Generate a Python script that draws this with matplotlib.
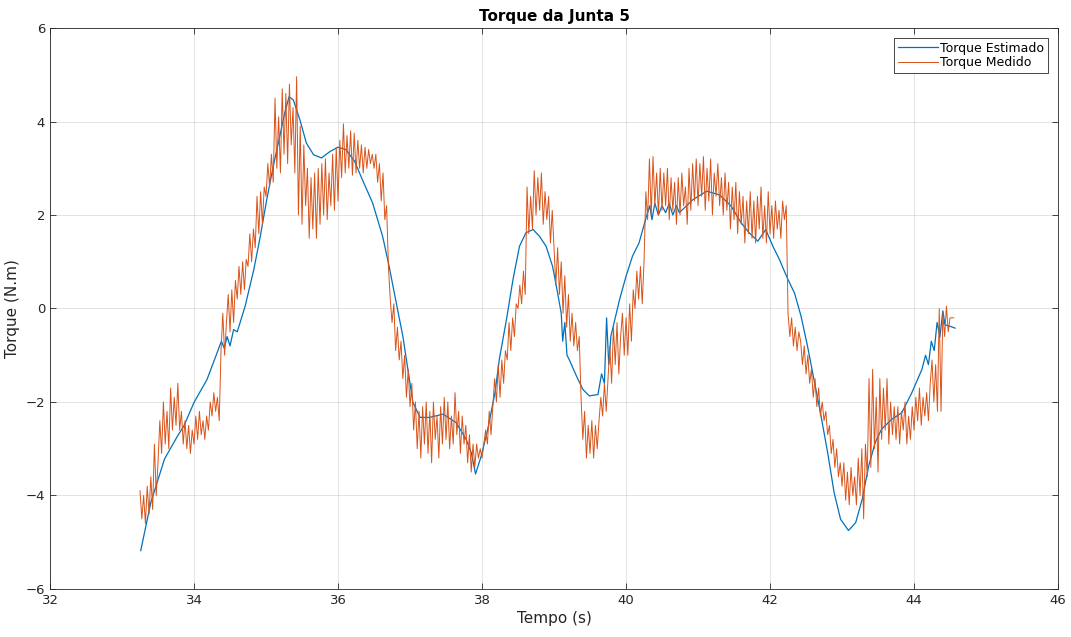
import numpy as np
import matplotlib.pyplot as plt

# Estimated torque, sampled at the turning points of the curve
t_est = [33.26, 33.40, 33.59, 33.77, 33.86, 34.00, 34.18, 34.32, 34.38, 34.42, 34.46,
         34.50, 34.55, 34.60, 34.71, 34.83, 34.92, 35.01, 35.10, 35.20, 35.26, 35.32,
         35.38, 35.47, 35.56, 35.66, 35.77, 35.89, 36.00, 36.11, 36.23, 36.34, 36.48,
         36.62, 36.71, 36.80, 36.90, 36.97, 37.04, 37.14, 37.27, 37.46, 37.64, 37.78,
         37.85, 37.91, 37.99, 38.08, 38.18, 38.24, 38.34, 38.43, 38.52, 38.61, 38.71,
         38.80, 38.89, 38.98, 39.05, 39.10, 39.12, 39.15, 39.18, 39.21, 39.31, 39.40,
         39.49, 39.61, 39.66, 39.70, 39.73, 39.76, 39.79, 39.91, 40.00, 40.09, 40.18,
         40.28, 40.33, 40.36, 40.40, 40.45, 40.50, 40.55, 40.60, 40.65, 40.70, 40.74,
         40.93, 41.12, 41.30, 41.46, 41.60, 41.71, 41.83,
         41.94, 42.04, 42.13, 42.24, 42.34, 42.43, 42.52, 42.61, 42.70, 42.80, 42.89,
         42.98, 43.09, 43.19, 43.28, 43.37, 43.46, 43.55, 43.69, 43.83, 43.97, 44.11,
         44.16, 44.20, 44.24, 44.28, 44.32, 44.36, 44.40, 44.43, 44.50, 44.57]
v_est = [-5.18, -4.15, -3.22, -2.73, -2.51, -2.01, -1.52, -0.95, -0.70, -0.85, -0.60,
         -0.80, -0.45, -0.50, 0.05, 0.83, 1.54, 2.33, 3.04, 3.75, 4.18, 4.53,
         4.46, 4.04, 3.54, 3.29, 3.22, 3.36, 3.45, 3.40, 3.15, 2.75, 2.26,
         1.54, 0.90, 0.19, -0.59, -1.30, -2.01, -2.33, -2.33, -2.26, -2.44, -2.80,
         -3.08, -3.54, -3.15, -2.58, -1.80, -1.09, -0.23, 0.62, 1.33, 1.62, 1.69,
         1.54, 1.33, 0.90, 0.33, -0.10, -0.70, -0.30, -1.00, -1.09, -1.44, -1.73,
         -1.87, -1.84, -1.40, -1.60, -0.20, -1.20, -0.59, 0.19, 0.69, 1.12, 1.40,
         1.95, 2.20, 1.90, 2.25, 2.00, 2.20, 2.05, 2.25, 2.00, 2.20, 2.05,
         2.33, 2.51, 2.43, 2.19, 1.83, 1.62, 1.44,
         1.69, 1.33, 1.05, 0.65, 0.33, -0.16, -0.80, -1.52, -2.23, -3.08, -3.94,
         -4.51, -4.75, -4.58, -4.08, -3.37, -2.87, -2.58, -2.37, -2.23, -1.80, -1.30,
         -1.00, -1.20, -0.70, -0.90, -0.30, -0.60, -0.05, -0.35, -0.38, -0.42]

# Measured torque, one reading every 25 ms from 33.25 s
t0_med = 33.25
dt_med = 0.025
v_med = [
    -3.9, -4.5, -4.0, -4.6, -3.8, -4.4, -3.6, -4.3, -2.9, -4.0,
    -3.3, -2.4, -3.1, -2.0, -2.9, -2.2, -3.0, -1.7, -2.6, -1.9,
    -2.5, -1.6, -2.6, -2.2, -2.9, -2.4, -3.0, -2.5, -3.1, -2.6,
    -2.9, -2.3, -2.8, -2.2, -2.7, -2.4, -2.8, -2.3, -2.6, -2.0,
    -2.3, -1.8, -2.2, -1.9, -2.4, -0.9, -0.1, -1.0, -0.3, 0.3,
    -0.5, 0.4, -0.3, 0.6, 0.2, 0.9, 0.3, 1.0, 0.4, 1.05,
    0.9, 1.6, 1.0, 1.7, 1.3, 2.4, 1.6, 2.5, 1.8, 2.6,
    2.4, 3.1, 2.6, 3.3, 2.7, 4.5, 3.0, 4.1, 2.9, 4.7,
    3.3, 4.6, 3.1, 4.8, 3.5, 4.3, 2.9, 4.96, 2.0, 3.9,
    1.8, 3.5, 2.2, 3.0, 1.5, 2.8, 1.7, 2.9, 1.5, 3.0,
    1.8, 3.1, 2.0, 3.2, 1.9, 2.9, 2.2, 3.3, 2.1, 3.45,
    2.3, 3.6, 2.8, 3.95, 2.9, 3.7, 3.0, 3.8, 2.85, 3.75,
    2.9, 3.6, 3.0, 3.5, 2.9, 3.45, 3.0, 3.4, 3.1, 3.3,
    3.0, 3.3, 2.7, 3.1, 2.3, 2.9, 1.9, 2.2, 0.9, 0.2,
    -0.3, 0.1, -0.9, -0.4, -1.1, -0.7, -1.5, -1.0, -1.9, -1.3,
    -2.1, -1.6, -2.6, -2.0, -3.0, -2.2, -3.2, -2.1, -2.9, -2.0,
    -3.1, -2.2, -3.3, -2.0, -2.8, -2.3, -3.2, -2.1, -2.9, -1.9,
    -2.8, -2.0, -3.0, -2.3, -2.9, -1.8, -2.7, -2.2, -3.1, -2.3,
    -2.9, -2.5, -3.3, -2.7, -3.5, -2.9, -3.4, -2.9, -3.2, -3.0,
    -3.2, -2.9, -2.6, -2.9, -2.2, -2.7, -2.1, -1.5, -2.0, -1.2,
    -1.9, -1.1, -1.6, -0.9, -1.1, -0.3, -0.9, -0.2, -0.6, 0.1,
    0.0, 0.5, 0.1, 0.8, 0.3, 2.6, 1.6, 2.4, 1.7, 2.95,
    2.0, 2.8, 2.1, 2.9, 1.8, 2.5, 1.9, 2.4, 1.4, 2.1,
    1.3, 0.5, 1.3, 0.3, 1.0, -0.1, 0.7, -0.4, 0.3, -0.7,
    -0.1, -0.8, -0.3, -0.9, -0.6, -1.9, -2.8, -2.2, -3.2, -2.5,
    -3.1, -2.4, -3.2, -2.5, -3.0, -2.4, -1.9, -2.3, -1.6, -2.2,
    -1.5, -0.8, -1.6, -0.4, -1.2, -0.3, -1.4, -0.6, -0.1, -1.0,
    -0.2, -1.0, 0.1, -0.7, 0.4, 0.0, 0.8, 0.2, 0.9, 0.1,
    1.0, 2.5, 1.9, 3.2, 2.0, 3.25, 2.2, 2.9, 2.0, 3.0,
    2.1, 2.9, 2.2, 3.0, 1.9, 2.8, 2.1, 2.7, 1.8, 2.8,
    2.0, 2.9, 2.2, 2.6, 1.8, 3.0, 2.1, 3.1, 2.3, 3.2,
    2.2, 3.1, 2.4, 3.25, 2.1, 3.0, 2.3, 3.2, 2.0, 2.9,
    2.4, 3.1, 2.2, 2.8, 2.0, 2.9, 2.1, 2.7, 1.7, 2.6,
    1.9, 2.7, 1.6, 2.5, 1.8, 2.4, 1.4, 2.3, 1.6, 2.5,
    1.5, 2.3, 1.4, 2.4, 1.7, 2.6, 1.5, 2.2, 1.4, 2.5,
    1.6, 2.2, 1.5, 2.3, 1.7, 2.1, 1.5, 2.3, 1.9, 2.2,
    -0.1, -0.6, -0.2, -0.8, -0.4, -0.9, -0.5, -0.7, -1.2, -0.8,
    -1.4, -1.0, -1.6, -1.3, -1.9, -1.5, -2.1, -1.7, -2.3, -2.0,
    -2.4, -2.2, -2.7, -2.5, -3.1, -2.8, -3.4, -3.0, -3.6, -3.3,
    -3.8, -3.3, -4.1, -3.5, -4.2, -3.4, -4.0, -3.6, -4.2, -3.2,
    -4.0, -3.0, -4.5, -2.9, -3.6, -1.5, -3.4, -1.3, -3.0, -1.9,
    -3.5, -1.5, -2.8, -1.7, -2.6, -1.5, -2.9, -2.0, -2.7, -2.1,
    -2.8, -2.1, -2.9, -2.2, -2.6, -2.0, -2.9, -2.3, -2.8, -2.1,
    -2.6, -1.9, -2.4, -1.7, -2.5, -1.9, -2.3, -1.8, -2.4, -1.6,
    -1.1, -2.0, -1.2, -2.2, 0.0, -2.2, -0.1, -0.6, 0.05, -0.5,
    -0.2, -0.2, -0.2]
t_med = t0_med + dt_med * np.arange(len(v_med))

x_ticks = [32, 34, 36, 38, 40, 42, 44, 46]
y_ticks = [-6, -4, -2, 0, 2, 4, 6]

fig = plt.figure(figsize=(10.71, 6.37), dpi=100)
ax = fig.add_axes([0.0467, 0.0754, 0.9412, 0.8806])

ax.plot(t_est, v_est, color='#0072BD', linewidth=0.9, label='Torque Estimado')
ax.plot(t_med, v_med, color='#D95319', linewidth=0.7, label='Torque Medido')

ax.set_xlim(32, 46)
ax.set_ylim(-6, 6)
ax.set_xticks(x_ticks)
ax.set_yticks(y_ticks)
ax.grid(True, color='#262626', alpha=0.15, linewidth=0.6)
ax.tick_params(direction='in', top=True, right=True, labelsize=9.5,
               colors='#262626', length=4, width=0.6)
for sp in ax.spines.values():
    sp.set_color('#262626')
    sp.set_linewidth(0.6)

ax.set_title('Torque da Junta 5', fontsize=11, fontweight='bold', color='black', pad=5)
ax.set_xlabel('Tempo (s)', fontsize=11, color='#262626', labelpad=3)
ax.set_ylabel('Torque (N.m)', fontsize=11, color='#262626', labelpad=4)

leg = ax.legend(loc='upper right', fontsize=9, fancybox=False, framealpha=1,
                edgecolor='#262626', borderpad=0.3, handlelength=3.2,
                handletextpad=0.2, labelspacing=0.1, borderaxespad=0.8)
leg.get_frame().set_linewidth(0.6)

fig.savefig('out.png', dpi=100)
